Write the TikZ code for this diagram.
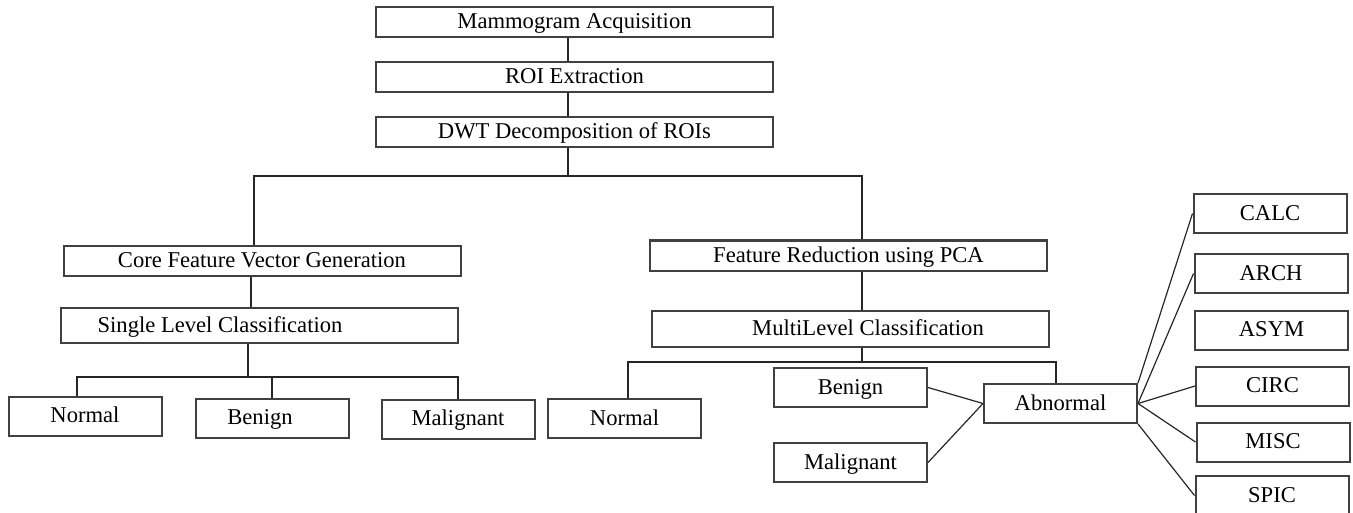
\documentclass[tikz,border=0pt]{standalone}
\usepackage{fontspec}
\setmainfont{Liberation Serif}
\usetikzlibrary{positioning}
\tikzset{
  basic/.style = {
      draw=black!75,
      line width=1pt,
      rectangle,
      inner sep=0pt,
      text height=1.48ex,
      text depth=0pt,
      font=\fontsize{11.3}{13}\selectfont,
      align=center
  },
  wide/.style = {
      basic,
      minimum width=198.5pt,
      minimum height=15pt
  },
  leaf/.style = {
      basic,
      minimum width=76.5pt,
      minimum height=19.5pt
  },
  link/.style = {
      draw=black!85,
      line width=0.6pt
  }
}

\begin{document}
\begin{tikzpicture}[x=0.5pt, y=-0.5pt, node distance=27.5pt]
        \useasboundingbox (0,0) rectangle (1353,513);
        \node[wide] (mam) at (574.5,22) {Mammogram Acquisition};
        \node[wide, below of=mam] (roi) {ROI Extraction};
        \node[wide, below of=roi] (dwt) {DWT Decomposition of ROIs};
        \node[wide] (core) at (262,261) {Core Feature Vector Generation};
        \node[wide, minimum height=17.5pt] (single) at (259,325.5) {Single Level Classification\hspace{39pt}};
        \node[wide] (pca) at (848.5,255.5) {Feature Reduction using PCA};
        \node[wide, minimum height=18pt] (multi) at (850,329) {\hspace{18pt}MultiLevel Classification};
        \node[leaf] (norm1) at (85,416) {Normal};
        \node[leaf] (ben1) at (272,418) {Benign\hspace{12pt}};
        \node[leaf] (mal1) at (458,419) {Malignant};
        \node[leaf] (norm2) at (624.5,418.5) {Normal};
        \node[leaf] (ben2) at (850.5,387.5) {Benign};
        \node[leaf] (mal2) at (850.5,462.5) {Malignant};
        \node[leaf] (abn) at (1060.5,403.5) {Abnormal};
        \node[leaf] (calc) at (1270,213.5) {CALC};
        \node[leaf] (arch) at (1271,273.5) {ARCH};
        \node[leaf] (asym) at (1271.5,330) {ASYM};
        \node[leaf] (circ) at (1272.5,386) {CIRC};
        \node[leaf] (misc) at (1273,442) {MISC};
        \node[leaf] (spic) at (1272,495.5) {SPIC};
        % Bus points
        \coordinate (trunk) at (568,0);
        \coordinate (busL) at (254,176);
        \coordinate (busR) at (862,176);
        \coordinate (stem) at (251,0);
        \coordinate (bus2) at (248,377);
        \coordinate (b2L) at (77,377);
        \coordinate (b2R) at (458,377);
        \coordinate (b3L) at (628,362);
        \coordinate (b3R) at (1056,362);
        % Edges
        \draw[link] (mam.south -| trunk) -- (roi.north -| trunk);
        \draw[link] (roi.south -| trunk) -- (dwt.north -| trunk);
        \draw[link] (dwt.south -| trunk) -- (trunk |- busL);
        \draw[link] (core.north -| busL) -- (busL) -- (busR) -- (pca.north -| busR);
        \draw[link] (core.south -| stem) -- (single.north -| stem);
        \draw[link] (single.south -| bus2) -- (bus2);
        \draw[link] (norm1.north -| b2L) -- (b2L) -- (b2R) -- (mal1.north);
        \draw[link] (ben1.north) -- (ben1.north |- b2L);
        \draw[link] (pca.south -| busR) -- (multi.north -| busR);
        \draw[link] (multi.south -| busR) -- (busR |- b3L);
        \draw[link] (norm2.north -| b3L) -- (b3L) -- (b3R) -- (abn.north -| b3R);
        \draw[link] (ben2.east) -- (abn.west);
        \draw[link] (mal2.east) -- (abn.west);
        \draw[link] (abn.north east) -- (calc.west);
        \draw[link] (abn.east) -- (arch.west);
        \draw[link] (abn.east) -- (circ.west);
        \draw[link] (abn.east) -- (misc.west);
        \draw[link] (abn.south east) -- (spic.west);
    \end{tikzpicture}
\end{document}
